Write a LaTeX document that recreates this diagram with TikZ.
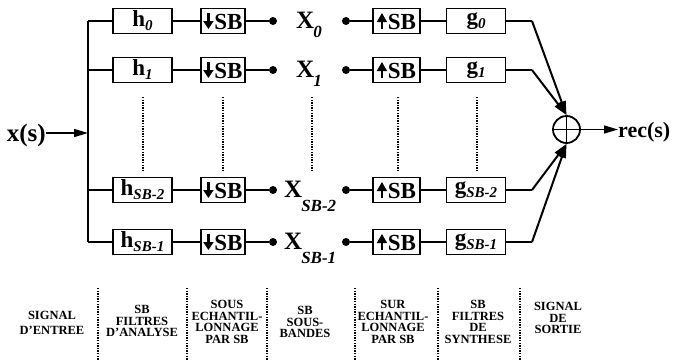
\documentclass[tikz,border=0pt]{standalone}
\usepackage{fontspec}
\setmainfont{Liberation Serif}
\usetikzlibrary{arrows.meta}
\newcommand{\dnA}{\tikz[baseline=0pt]\draw[line width=2.4pt,-{Triangle[length=8pt,width=10pt]}] (0,16pt)--(0,0pt);\kern1pt}
\newcommand{\upA}{\tikz[baseline=0pt]\draw[line width=1.4pt,-{Triangle[length=9pt,width=10pt]}] (0,0pt)--(0,16pt);\kern1pt}
\newcommand{\hsub}[1]{\raisebox{-4pt}{\fontsize{15}{15}\selectfont\itshape #1}}
\begin{document}
\begin{tikzpicture}[x=1pt,y=-1pt,
  box/.style={draw,line width=1.8pt,minimum height=25pt,inner sep=0pt,font=\fontsize{23}{23}\selectfont\bfseries},
  hbox/.style={box,minimum width=59pt},
  sbbox/.style={box,minimum width=44pt},
  ubox/.style={box,minimum width=47pt},
  wire/.style={line width=2pt},
  arr/.style={line width=2pt,-{Triangle[length=14pt,width=8pt]}},
  vdots/.style={line width=2.2pt,dash pattern=on 1.3pt off 1.3pt},
  dotn/.style={circle,fill,inner sep=0pt,minimum size=8pt},
  big/.style={font=\fontsize{25}{25}\selectfont\bfseries},
  lab/.style={align=center,font=\fontsize{12.5}{11.5}\selectfont\bfseries},
]
\useasboundingbox (0,0) rectangle (678,362);

% input
\node[big,anchor=base east,inner sep=0pt] (xin) at (46,141) {x(s)};
\coordinate (bin) at (88,133);
\draw[arr,line width=1.4pt] (xin.east |- bin) -- (bin);

\foreach \i/\y/\s/\xx/\dr in {0/21/0/296/9, 1/70/1/296/9, 2/190/SB-2/284/14, 3/242/SB-1/284/14}{
  \coordinate (b\i) at (88,\y);
  \node[hbox] (h\i) at (142.5,\y) {h\hsub{\s}};
  \node[sbbox] (d\i) at (223,\y) {\dnA SB};
  \node[dotn] (p\i) at (273,\y) {};
  \node[anchor=base west,inner sep=0pt,font=\fontsize{25}{25}\selectfont\bfseries] (X\i) at (\xx,{\y+7}) {X\kern-1pt\raisebox{-\dr pt}{\fontsize{17}{17}\selectfont\itshape \s}};
  \node[dotn] (q\i) at (346,\y) {};
  \node[ubox] (u\i) at (396.5,\y) {\upA SB};
  \node[hbox] (g\i) at (476,\y) {g\hsub{\s}};
  \coordinate (e\i) at (532,\y);
  \draw[wire] (b\i) -- (h\i);
  \draw[wire] (h\i) -- (d\i);
  \draw[wire] (d\i) -- (p\i);
  \draw[wire] (q\i) -- (u\i);
  \draw[wire] (u\i) -- (g\i);
  \draw[wire] (g\i) -- (e\i);
}
\draw[line width=2.3pt] (b0) -- (b3);

% sum
\node[circle,draw,line width=1.8pt,minimum size=27pt,inner sep=0pt] (sum) at (566.5,129.5) {};
\draw[line width=1.8pt] (sum.north) -- (sum.south) (sum.west) -- (sum.east);
\draw[arr] (e0) -- (sum.north);
\draw[arr] (e1) -- (sum.north);
\draw[arr] (e2) -- (sum.south);
\draw[arr] (e3) -- (sum.south);
\node[anchor=base west,inner sep=0pt,font=\fontsize{22}{22}\selectfont\bfseries] (rec) at (618,137) {rec(s)};
\draw[arr,line width=1.4pt] (sum.east) -- (sum.east -| rec.west);

% dotted continuation lines
\foreach \x in {143,223,312,398,477}{
  \draw[vdots] (\x,97) -- (\x,170);
}

% bottom separators
\foreach \x in {98,187,267,355,438,520}{
  \draw[vdots] (\x,288) -- (\x,360);
}
\node[lab] (l1) at (52,323) {SIGNAL\\[3pt]D'ENTREE};
\node[lab] (l2) at (142,321) {SB\\FILTRES\\D'ANALYSE};
\node[lab] (l3) at (227,322) {SOUS\\ECHANTIL-\\LONNAGE\\PAR SB};
\node[lab] (l4) at (305,322) {SB\\SOUS-\\BANDES};
\node[lab] (l5) at (393,322) {SUR\\ECHANTIL-\\LONNAGE\\PAR SB};
\node[lab] (l6) at (478,322) {SB\\FILTRES\\DE\\SYNTHESE};
\node[lab] (l7) at (558,318) {SIGNAL\\DE\\SORTIE};
\end{tikzpicture}
\end{document}
